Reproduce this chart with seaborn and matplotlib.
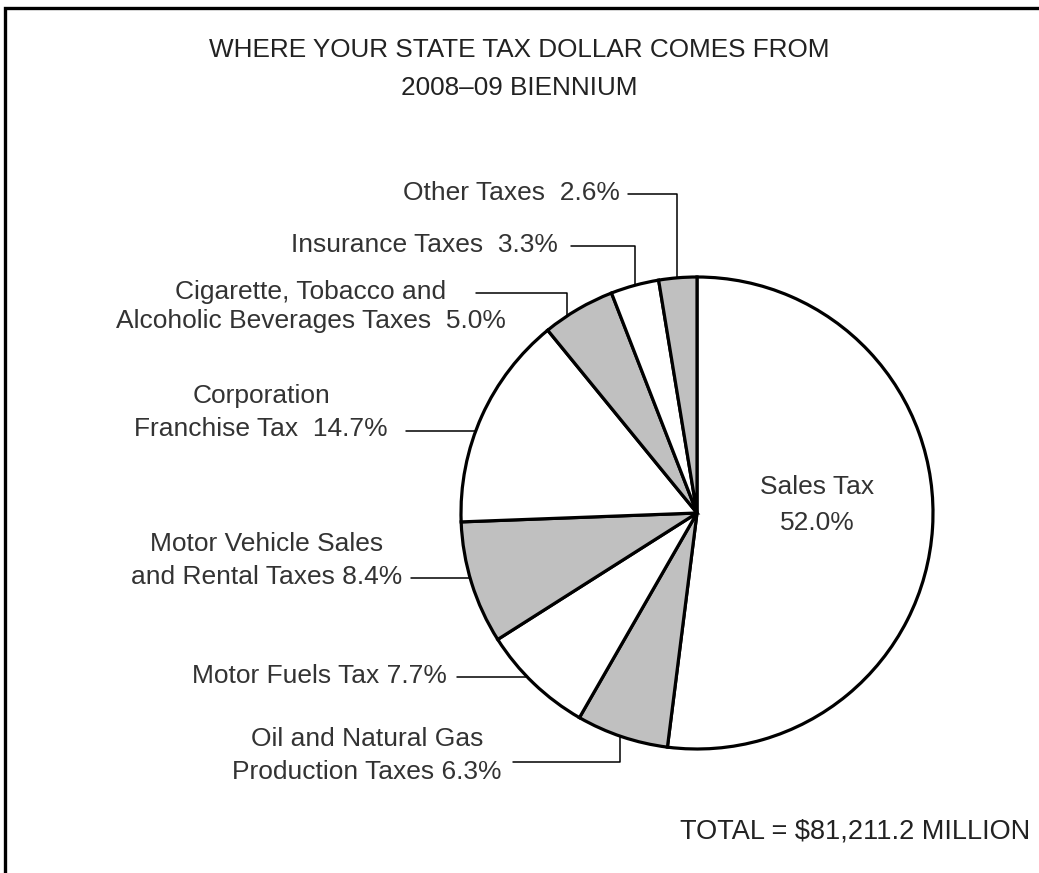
import numpy as np
import matplotlib
matplotlib.use("Agg")
import matplotlib.pyplot as plt
import seaborn as sns

# ---- data ----
categories = ["Sales Tax", "Oil and Natural Gas Production Taxes", "Motor Fuels Tax",
              "Motor Vehicle Sales and Rental Taxes", "Corporation Franchise Tax",
              "Cigarette, Tobacco and Alcoholic Beverages Taxes", "Insurance Taxes",
              "Other Taxes"]
shares = [52.0, 6.3, 7.7, 8.4, 14.7, 5.0, 3.3, 2.6]
title_lines = ["WHERE YOUR STATE TAX DOLLAR COMES FROM", "2008\u201309 BIENNIUM"]
total_text = "TOTAL = $81,211.2 MILLION"

sns.set_theme(style="white")
plt.rcParams["font.family"] = ["Liberation Sans", "DejaVu Sans"]

W, H = 1039, 873
fig = plt.figure(figsize=(W / 100, H / 100), dpi=100)
ax = fig.add_axes([0, 0, 1, 1])

def Y(y):
    return H - y

cx, cy, r = 697, Y(513), 236
gray, white = "#c0c0c0", "#ffffff"
colors = [white, gray, white, gray, white, gray, white, gray]

ax.pie(shares, colors=colors, startangle=90, counterclock=False,
       center=(cx, cy), radius=r,
       wedgeprops=dict(edgecolor="black", linewidth=2.3))
ax.set_xlim(0, W)
ax.set_ylim(0, H)
ax.set_aspect("equal")
ax.axis("off")

# frame (top and left edges visible)
ax.plot([5, 5, W], [0, Y(8), Y(8)], color="black", lw=2.4, solid_capstyle="butt",
        solid_joinstyle="miter", clip_on=False)

tc = "#333333"
fs = 19
lw_lead = 1.1

def circle_y_top(x):
    return cy + np.sqrt(r**2 - (x - cx)**2)

def circle_y_bot(x):
    return cy - np.sqrt(r**2 - (x - cx)**2)

def circle_x_left(yy):
    return cx - np.sqrt(r**2 - (yy - cy)**2)

# title
ax.text(W / 2, Y(50), title_lines[0], ha="center", va="center", fontsize=18.8, color="#222222")
ax.text(W / 2, Y(88), title_lines[1], ha="center", va="center", fontsize=18.8, color="#222222")

# Sales tax label inside
ax.text(817, Y(487), "Sales Tax", ha="center", va="center", fontsize=fs, color=tc)
ax.text(817, Y(523), f"{shares[0]:.1f}%", ha="center", va="center", fontsize=fs, color=tc)

# Other taxes
ax.text(620, Y(193), f"Other Taxes  {shares[7]:.1f}%", ha="right", va="center", fontsize=fs, color=tc)
ax.plot([628, 677, 677], [Y(194), Y(194), circle_y_top(677)], color="black", lw=lw_lead)

# Insurance
ax.text(558, Y(245), f"Insurance Taxes  {shares[6]:.1f}%", ha="right", va="center", fontsize=fs, color=tc)
ax.plot([571, 635, 635], [Y(246), Y(246), circle_y_top(635)], color="black", lw=lw_lead)

# Cigarette
ax.text(311, Y(292), "Cigarette, Tobacco and", ha="center", va="center", fontsize=fs, color=tc)
ax.text(311, Y(321), f"Alcoholic Beverages Taxes  {shares[5]:.1f}%", ha="center", va="center", fontsize=fs, color=tc)
ax.plot([476, 567, 567], [Y(293), Y(293), circle_y_top(567)], color="black", lw=lw_lead)

# Corporation
ax.text(261, Y(396), "Corporation", ha="center", va="center", fontsize=fs, color=tc)
ax.text(261, Y(429), f"Franchise Tax  {shares[4]:.1f}%", ha="center", va="center", fontsize=fs, color=tc)
ax.plot([406, circle_x_left(Y(431))], [Y(431), Y(431)], color="black", lw=lw_lead)

# Motor vehicle
ax.text(267, Y(544), "Motor Vehicle Sales", ha="center", va="center", fontsize=fs, color=tc)
ax.text(267, Y(577), f"and Rental Taxes {shares[3]:.1f}%", ha="center", va="center", fontsize=fs, color=tc)
ax.plot([411, circle_x_left(Y(578))], [Y(578), Y(578)], color="black", lw=lw_lead)

# Motor fuels
ax.text(447, Y(676), f"Motor Fuels Tax {shares[2]:.1f}%", ha="right", va="center", fontsize=fs, color=tc)
ax.plot([457, circle_x_left(Y(677))], [Y(677), Y(677)], color="black", lw=lw_lead)

# Oil and gas
ax.text(367, Y(739), "Oil and Natural Gas", ha="center", va="center", fontsize=fs, color=tc)
ax.text(367, Y(772), f"Production Taxes {shares[1]:.1f}%", ha="center", va="center", fontsize=fs, color=tc)
ax.plot([513, 620, 620], [Y(762), Y(762), circle_y_bot(620)], color="black", lw=lw_lead)

# total
ax.text(1030, Y(832), total_text, ha="right", va="center", fontsize=19.5, color="#222222")

fig.savefig("out.png", dpi=100, facecolor="white")
